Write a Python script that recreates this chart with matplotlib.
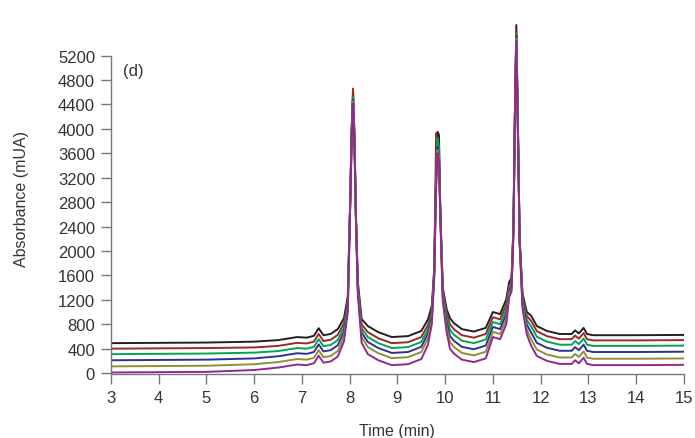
import matplotlib
matplotlib.use("Agg")
import matplotlib.pyplot as plt

plt.rcParams['font.family'] = ['Liberation Sans Narrow', 'Liberation Sans', 'DejaVu Sans']

time_min = [3.0, 4.0, 5.0, 6.0, 6.5, 6.9, 7.1, 7.25, 7.35, 7.45, 7.6, 7.75, 7.88, 7.96, 8.01, 8.04, 8.07,
            8.1, 8.13, 8.17, 8.25, 8.38, 8.6, 8.88, 9.22, 9.5, 9.64, 9.72, 9.77, 9.81, 9.84, 9.87, 9.9,
            9.95, 10.03, 10.1, 10.18, 10.35, 10.6, 10.85, 11.0, 11.15, 11.28, 11.34, 11.39, 11.43, 11.46,
            11.49, 11.52, 11.56, 11.62, 11.71, 11.8, 11.92, 12.13, 12.4, 12.65, 12.72, 12.8, 12.9, 12.97,
            13.1, 13.5, 14.0, 15.0]

black = [490, 495, 500, 515, 540, 590, 580, 610, 735, 620, 640, 720, 900, 1250, 2800, 4000, 4610,
         3900, 2600, 1500, 885, 770, 670, 590, 605, 690, 880, 1100, 1700, 3300, 3950, 3900, 2600,
         1400, 1050, 900, 820, 720, 680, 740, 1000, 965, 1210, 1490, 1560, 2400, 4200,
         5700, 4300, 2200, 1300, 1000, 940, 770, 690, 640, 640, 700, 650, 740, 640,
         620, 620, 620, 625]
brown = [400, 405, 410, 420, 445, 495, 485, 515, 640, 525, 545, 625, 819, 1198, 2786, 3950, 4660,
         3880, 2585, 1455, 800, 670, 570, 490, 505, 590, 790, 1035, 1665, 3930, 3800, 3400, 2585,
         1355, 975, 800, 720, 620, 580, 640, 915, 880, 1125, 1439, 1513, 2379, 4196,
         5620, 4250, 2187, 1257, 936, 855, 685, 605, 555, 555, 615, 565, 655, 555,
         535, 535, 535, 540]
green = [310, 315, 320, 335, 360, 410, 400, 430, 555, 440, 460, 540, 747, 1151, 2773, 3900, 4520,
         3850, 2573, 1419, 732, 590, 490, 410, 425, 510, 718, 983, 1637, 3200, 3850, 3700, 2571,
         1314, 907, 710, 630, 530, 490, 550, 835, 800, 1045, 1391, 1469, 2359, 4192,
         5560, 4200, 2174, 1212, 869, 765, 595, 515, 465, 465, 525, 475, 565, 465,
         445, 445, 445, 450]
blue = [210, 215, 220, 240, 275, 325, 315, 345, 470, 355, 375, 455, 675, 1104, 2760, 3850, 4480,
        3800, 2561, 1383, 664, 510, 410, 330, 345, 430, 646, 931, 1609, 3150, 3700, 3600, 2556,
        1269, 832, 610, 530, 430, 390, 450, 755, 720, 965, 1343, 1425, 2339, 4188,
        5520, 4150, 2159, 1162, 794, 665, 495, 415, 365, 365, 425, 375, 465, 365,
        345, 345, 345, 350]
olive = [110, 115, 120, 145, 180, 230, 220, 250, 375, 260, 280, 360, 594, 1052, 2746, 3800, 4450,
         3750, 2548, 1345, 592, 425, 325, 245, 260, 345, 570, 876, 1579, 3100, 3650, 3550, 2541,
         1224, 757, 510, 430, 330, 290, 350, 675, 640, 885, 1295, 1381, 2319, 4184,
         5480, 4100, 2142, 1107, 711, 555, 385, 305, 255, 255, 315, 265, 355, 255,
         235, 235, 235, 240]
purple = [10, 15, 20, 50, 90, 140, 130, 160, 285, 170, 190, 270, 517, 1002, 2732, 3750, 4420,
          3700, 2531, 1293, 494, 310, 210, 130, 145, 230, 466, 801, 1539, 3050, 3600, 3500, 2525,
          1175, 675, 400, 320, 220, 180, 240, 590, 555, 800, 1244, 1334, 2297, 4180,
          5440, 4050, 2126, 1055, 632, 450, 280, 200, 150, 150, 210, 160, 250, 150,
          130, 130, 130, 135]

series = [black, brown, green, blue, olive, purple]
colors = ['#231f20', '#9b2a25', '#00a651', '#2e3192', '#8f8f35', '#92278f']

y_ticks = list(range(0, 5201, 400))
x_ticks = list(range(3, 16))

fig = plt.figure(figsize=(6.95, 4.39), dpi=100)
ax = fig.add_axes([0.1597, 0.1458, 0.8243, 0.8018])

for vals, c in zip(series, colors):
    ax.plot(time_min, vals, color=c, lw=1.4, solid_joinstyle='round')

ax.set_xlim(3, 15)
ax.set_ylim(-15, 5750)
ax.set_xticks(x_ticks)
ax.set_yticks(y_ticks)
ax.spines['top'].set_visible(False)
ax.spines['right'].set_visible(False)
ax.spines['left'].set_bounds(0, 5200)
for s in ('left', 'bottom'):
    ax.spines[s].set_color('#777777')
    ax.spines[s].set_linewidth(1.0)
ax.tick_params(direction='out', length=7.5, width=1.0, color='#777777',
               labelsize=12, labelcolor='#333333', pad=4)

ax.set_xlabel('Time (min)', fontsize=11.5, color='#333333', labelpad=13)
ax.set_ylabel('Absorbance (mUA)', fontsize=11.5, color='#333333', labelpad=21)
ax.text(3.25, 4950, '(d)', fontsize=12, color='#333333', va='center', ha='left')

fig.savefig('out.png', dpi=100)
